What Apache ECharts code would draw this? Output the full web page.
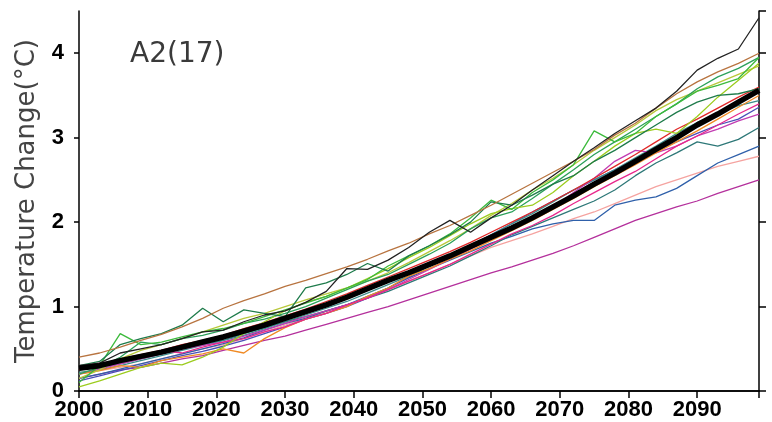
<!DOCTYPE html>
<html>
<head>
<meta charset="utf-8">
<script src="https://cdn.jsdelivr.net/npm/echarts@6/dist/echarts.min.js"></script>
<style>
  html, body { margin: 0; padding: 0; background: #fff; }
  #main { width: 772px; height: 422px; }
</style>
</head>
<body>
<div id="main"></div>
<script>
var years = [2000, 2003, 2006, 2009, 2012, 2015, 2018, 2021, 2024, 2027, 2030, 2033,
    2036, 2039, 2042, 2045, 2048, 2051, 2054, 2057, 2060, 2063, 2066, 2069, 2072,
    2075, 2078, 2081, 2084, 2087, 2090, 2093, 2096, 2099];

// ensemble mean
var meanA2 = [0.27, 0.30, 0.36, 0.41, 0.46, 0.52, 0.58, 0.64, 0.71, 0.78, 0.86, 0.94,
    1.02, 1.11, 1.21, 1.31, 1.40, 1.50, 1.60, 1.71, 1.82, 1.93, 2.05, 2.18, 2.31,
    2.45, 2.58, 2.72, 2.86, 3.00, 3.15, 3.28, 3.42, 3.56];

// 17 models
var brown = [0.40, 0.45, 0.52, 0.60, 0.67, 0.76, 0.86, 0.98, 1.07, 1.15, 1.24, 1.31,
    1.39, 1.47, 1.56, 1.66, 1.75, 1.86, 1.96, 2.08, 2.20, 2.33, 2.46, 2.59, 2.72,
    2.86, 3.03, 3.17, 3.35, 3.52, 3.66, 3.78, 3.88, 4.00];
var blackThin = [0.30, 0.33, 0.45, 0.50, 0.55, 0.62, 0.70, 0.72, 0.82, 0.90, 0.95, 1.05,
    1.18, 1.45, 1.44, 1.55, 1.70, 1.88, 2.02, 1.88, 2.05, 2.20, 2.38, 2.55, 2.72,
    2.88, 3.05, 3.20, 3.35, 3.55, 3.80, 3.94, 4.05, 4.42];
var darkGreen = [0.30, 0.35, 0.55, 0.62, 0.68, 0.78, 0.98, 0.82, 0.96, 0.92, 0.88, 1.22,
    1.28, 1.38, 1.51, 1.42, 1.60, 1.72, 1.85, 2.00, 2.24, 2.20, 2.32, 2.45, 2.55,
    2.72, 2.85, 3.00, 3.15, 3.30, 3.42, 3.50, 3.52, 3.58];
var brightGreen = [0.10, 0.30, 0.68, 0.55, 0.58, 0.64, 0.70, 0.74, 0.80, 0.88, 0.96, 1.04,
    1.12, 1.22, 1.32, 1.48, 1.60, 1.72, 1.86, 2.05, 2.26, 2.15, 2.35, 2.50, 2.68,
    3.08, 2.95, 3.05, 3.25, 3.40, 3.55, 3.62, 3.70, 3.95];
var lime = [0.05, 0.12, 0.20, 0.28, 0.33, 0.31, 0.40, 0.52, 0.68, 0.82, 0.95, 1.05,
    1.12, 1.22, 1.33, 1.45, 1.58, 1.70, 1.84, 1.98, 2.10, 2.16, 2.20, 2.35, 2.55,
    2.72, 2.90, 3.05, 3.10, 3.05, 3.25, 3.48, 3.68, 3.88];
var olive = [0.15, 0.25, 0.38, 0.48, 0.55, 0.62, 0.70, 0.78, 0.86, 0.92, 1.00, 1.08,
    1.15, 1.22, 1.30, 1.40, 1.52, 1.65, 1.78, 1.92, 2.08, 2.22, 2.38, 2.52, 2.68,
    2.85, 3.00, 3.15, 3.32, 3.45, 3.55, 3.65, 3.75, 3.85];
var midGreen = [0.20, 0.28, 0.40, 0.58, 0.55, 0.62, 0.66, 0.72, 0.80, 0.85, 0.92, 1.00,
    1.10, 1.20, 1.30, 1.38, 1.50, 1.62, 1.75, 1.92, 2.05, 2.12, 2.28, 2.45, 2.62,
    2.80, 2.95, 3.10, 3.25, 3.40, 3.58, 3.72, 3.82, 3.95];
var teal = [0.25, 0.28, 0.32, 0.38, 0.44, 0.50, 0.55, 0.60, 0.68, 0.75, 0.82, 0.88,
    0.95, 1.02, 1.10, 1.18, 1.28, 1.38, 1.48, 1.60, 1.72, 1.85, 1.95, 2.05, 2.15,
    2.25, 2.38, 2.55, 2.70, 2.82, 2.95, 2.90, 2.98, 3.12];
var teal2 = [0.22, 0.25, 0.30, 0.36, 0.42, 0.48, 0.54, 0.60, 0.66, 0.74, 0.82, 0.90,
    0.98, 1.06, 1.16, 1.26, 1.36, 1.48, 1.60, 1.72, 1.85, 1.98, 2.10, 2.24, 2.38,
    2.50, 2.62, 2.76, 2.90, 3.05, 3.18, 3.28, 3.38, 3.44];
var blue = [0.15, 0.20, 0.26, 0.32, 0.38, 0.44, 0.50, 0.56, 0.63, 0.72, 0.80, 0.86,
    0.95, 1.02, 1.12, 1.22, 1.34, 1.45, 1.55, 1.65, 1.75, 1.83, 1.92, 1.98, 2.02,
    2.02, 2.20, 2.26, 2.30, 2.40, 2.55, 2.70, 2.80, 2.90];
var bluePurple = [0.12, 0.18, 0.24, 0.30, 0.36, 0.42, 0.47, 0.53, 0.60, 0.68, 0.76, 0.85,
    0.92, 1.00, 1.10, 1.22, 1.35, 1.48, 1.60, 1.72, 1.85, 1.98, 2.12, 2.25, 2.38,
    2.50, 2.62, 2.75, 2.85, 2.95, 3.05, 3.15, 3.22, 3.36];
var magentaLow = [0.15, 0.20, 0.25, 0.28, 0.33, 0.38, 0.42, 0.48, 0.54, 0.60, 0.65, 0.72,
    0.79, 0.86, 0.93, 1.00, 1.08, 1.16, 1.24, 1.32, 1.40, 1.47, 1.55, 1.63, 1.72,
    1.82, 1.92, 2.02, 2.10, 2.18, 2.25, 2.34, 2.42, 2.50];
var salmon = [0.20, 0.24, 0.28, 0.32, 0.38, 0.44, 0.50, 0.55, 0.62, 0.70, 0.78, 0.86,
    0.94, 1.02, 1.10, 1.20, 1.30, 1.40, 1.50, 1.60, 1.70, 1.78, 1.86, 1.95, 2.04,
    2.12, 2.22, 2.32, 2.42, 2.50, 2.58, 2.66, 2.72, 2.78];
var magenta = [0.20, 0.26, 0.32, 0.38, 0.44, 0.50, 0.54, 0.58, 0.65, 0.72, 0.80, 0.88,
    0.95, 1.02, 1.10, 1.20, 1.32, 1.44, 1.56, 1.68, 1.80, 1.92, 2.05, 2.18, 2.35,
    2.52, 2.72, 2.85, 2.82, 2.90, 3.02, 3.10, 3.20, 3.28];
var red = [0.25, 0.30, 0.38, 0.43, 0.48, 0.55, 0.60, 0.66, 0.74, 0.81, 0.89, 0.97,
    1.06, 1.15, 1.25, 1.35, 1.45, 1.55, 1.65, 1.76, 1.88, 2.00, 2.12, 2.25, 2.38,
    2.52, 2.66, 2.80, 2.95, 3.10, 3.22, 3.35, 3.48, 3.60];
var orange = [0.20, 0.24, 0.30, 0.28, 0.36, 0.40, 0.44, 0.50, 0.45, 0.62, 0.75, 0.85,
    0.92, 1.00, 1.12, 1.22, 1.36, 1.45, 1.56, 1.66, 1.78, 1.90, 2.02, 2.15, 2.28,
    2.42, 2.55, 2.68, 2.82, 2.95, 3.08, 3.22, 3.36, 3.50];
var hotPink = [0.30, 0.33, 0.36, 0.42, 0.48, 0.45, 0.52, 0.58, 0.62, 0.70, 0.76, 0.85,
    0.92, 1.02, 1.10, 1.20, 1.30, 1.40, 1.50, 1.62, 1.74, 1.86, 1.96, 2.08, 2.22,
    2.35, 2.48, 2.60, 2.75, 2.90, 3.02, 3.15, 3.28, 3.40];

var models = [
    { name: 'm1', values: magentaLow, color: '#b4309c' },
    { name: 'm2', values: salmon, color: '#f5a3a0' },
    { name: 'm3', values: blue, color: '#2f60aa' },
    { name: 'm4', values: bluePurple, color: '#4b4fb8' },
    { name: 'm5', values: teal, color: '#2e7878' },
    { name: 'm6', values: teal2, color: '#3b8c8a' },
    { name: 'm7', values: magenta, color: '#c23cb2' },
    { name: 'm8', values: orange, color: '#f08a24' },
    { name: 'm9', values: hotPink, color: '#e8288c' },
    { name: 'm10', values: red, color: '#e02828' },
    { name: 'm11', values: olive, color: '#b8c83a' },
    { name: 'm12', values: midGreen, color: '#2ca05a' },
    { name: 'm13', values: lime, color: '#9ccc1e' },
    { name: 'm14', values: brightGreen, color: '#3cba3c' },
    { name: 'm15', values: darkGreen, color: '#1e7b4b' },
    { name: 'm16', values: brown, color: '#b87440' },
    { name: 'm17', values: blackThin, color: '#222222' }
];

function pairs(vals) {
    return years.map(function (y, i) { return [y, vals[i]]; });
}

var series = models.map(function (m) {
    return {
        name: m.name,
        type: 'line',
        data: pairs(m.values),
        showSymbol: false,
        lineStyle: { color: m.color, width: 1.3 },
        z: 2
    };
});
series.push({
    name: 'mean',
    type: 'line',
    data: pairs(meanA2),
    showSymbol: false,
    lineStyle: { color: '#000', width: 5.5 },
    z: 3
});

var tickFont = {
    color: '#000',
    fontFamily: '"Liberation Sans Narrow", "Liberation Sans", sans-serif',
    fontWeight: 'bold',
    fontSize: 22
};

var chart = echarts.init(document.getElementById('main'));
chart.setOption({
    backgroundColor: '#ffffff',
    animation: false,
    title: {
        text: 'A2(17)',
        left: 125,
        top: 36,
        textStyle: {
            color: '#3a3a3a',
            fontFamily: '"DejaVu Sans", sans-serif',
            fontWeight: 'normal',
            fontSize: 28
        }
    },
    grid: { left: 79, right: 13, top: 11, bottom: 31 },
    xAxis: [{
        type: 'value',
        min: 2000,
        max: 2099,
        interval: 10,
        position: 'bottom',
        axisLine: { lineStyle: { color: '#000', width: 1.5 } },
        axisTick: { inside: false, length: 6, lineStyle: { color: '#000', width: 1.5 } },
        axisLabel: Object.assign({
            margin: 8,
            showMaxLabel: false,
            formatter: function (v) { return String(v); }
        }, tickFont),
        splitLine: { show: false }
    }, {
        type: 'value',
        min: 2000,
        max: 2099,
        interval: 10,
        position: 'top',
        axisLine: { lineStyle: { color: '#000', width: 1.5 } },
        axisTick: { inside: true, length: 7, lineStyle: { color: '#000', width: 1.5 } },
        axisLabel: { show: false },
        splitLine: { show: false }
    }],
    yAxis: [{
        type: 'value',
        min: 0,
        max: 4.5,
        interval: 1,
        position: 'left',
        name: 'Temperature Change(°C)',
        nameLocation: 'middle',
        nameGap: 39,
        nameTextStyle: {
            color: '#444',
            fontFamily: '"DejaVu Sans", sans-serif',
            fontSize: 26
        },
        axisLine: { lineStyle: { color: '#000', width: 1.5 } },
        axisTick: { inside: false, length: 5, lineStyle: { color: '#000', width: 1.5 } },
        axisLabel: Object.assign({ margin: 15, showMaxLabel: false }, tickFont),
        splitLine: { show: false }
    }, {
        type: 'value',
        min: 0,
        max: 4.5,
        interval: 1,
        position: 'right',
        axisLine: { show: true, lineStyle: { color: '#000', width: 1.5 } },
        axisTick: { show: true, inside: false, length: 7, lineStyle: { color: '#000', width: 1.5 } },
        axisLabel: { show: false },
        splitLine: { show: false }
    }],
    series: series
});
</script>
</body>
</html>
